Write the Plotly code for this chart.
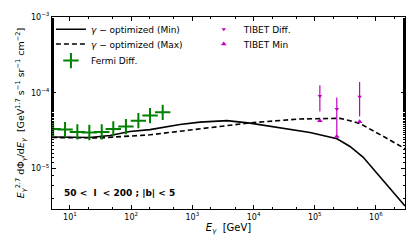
import plotly.graph_objects as go

# ---- data ----
E_min = [5.1, 10, 21, 45, 95, 203, 627, 1330, 3670, 8730, 2.7e4, 5.73e4, 8.36e4, 2.31e5, 3.76e5, 6.14e5, 1.16e6, 2.98e6]
F_min = [2.61e-5, 2.61e-5, 2.57e-5, 2.73e-5, 3.08e-5, 3.27e-5, 3.81e-5, 4.10e-5, 4.29e-5, 3.98e-5, 3.47e-5, 3.18e-5, 2.99e-5, 2.47e-5, 1.96e-5, 1.42e-5, 7.76e-6, 3.21e-6]

E_max = [5.1, 30.9, 203, 627, 8730, 5.73e4, 2.58e5, 3.76e5, 5.48e5, 1.4e6, 2.98e6]
F_max = [2.57e-5, 2.54e-5, 2.79e-5, 3.11e-5, 4.01e-5, 4.52e-5, 4.60e-5, 4.29e-5, 3.93e-5, 2.59e-5, 1.83e-5]

E_fermi = [5.3, 8.3, 13.2, 20.7, 33, 51, 82, 131, 203, 327]
F_fermi = [3.34e-5, 3.27e-5, 3.05e-5, 2.99e-5, 3.05e-5, 3.34e-5, 3.58e-5, 4.29e-5, 5.0e-5, 5.52e-5]

E_tibet = [1.21e5, 2.29e5, 5.4e5]
F_tibet = [9.1e-5, 6.1e-5, 8.9e-5]
F_tibet_hi = [1.26e-4, 8.7e-5, 1.39e-4]
F_tibet_lo = [5.65e-5, 2.8e-5, 4.85e-5]
F_tibet_min = [4.27e-5, 2.66e-5, 4.14e-5]

xtick_vals = [10, 100, 1000, 1e4, 1e5, 1e6]
xtick_text = ["10<sup>1</sup>", "10<sup>2</sup>", "10<sup>3</sup>", "10<sup>4</sup>", "10<sup>5</sup>", "10<sup>6</sup>"]
ytick_vals = [1e-5, 1e-4, 1e-3]
ytick_text = ["10<sup>−5</sup>", "10<sup>−4</sup>", "10<sup>−3</sup>"]

MAG = "#bf00bf"
FONT = "DejaVu Sans"

fig = go.Figure()
fig.add_trace(go.Scatter(x=E_min, y=F_min, mode="lines", line=dict(color="black", width=1.6),
                         name="<i>γ</i> − optimized (Min)", legend="legend", showlegend=True))
fig.add_trace(go.Scatter(x=E_max, y=F_max, mode="lines", line=dict(color="black", width=1.6, dash="5px,3px"),
                         name="<i>γ</i> − optimized (Max)", legend="legend2", showlegend=True))
fig.add_trace(go.Scatter(x=E_fermi, y=F_fermi, mode="markers",
                         marker=dict(symbol="cross-thin", size=11, line=dict(color="green", width=2), color="green"),
                         name="Fermi Diff.", legend="legend3", showlegend=True))
fig.add_trace(go.Scatter(x=E_tibet, y=F_tibet, mode="markers",
                         marker=dict(symbol="triangle-down", size=4, color=MAG),
                         error_y=dict(type="data", symmetric=False,
                                      array=[h - c for h, c in zip(F_tibet_hi, F_tibet)],
                                      arrayminus=[c - l for l, c in zip(F_tibet_lo, F_tibet)],
                                      color=MAG, thickness=1.2, width=0),
                         name="TIBET Diff.", legend="legend4", showlegend=True))
fig.add_trace(go.Scatter(x=E_tibet, y=F_tibet_min, mode="markers",
                         marker=dict(symbol="triangle-up", size=5, color=MAG),
                         name="TIBET Min", legend="legend5", showlegend=True))

fig.add_annotation(text="<b>50 <  l  < 200 ; |b| < 5</b>", xref="paper", yref="paper",
                   x=0.028, y=0.084, xanchor="left", yanchor="middle", showarrow=False,
                   font=dict(family=FONT, size=9, color="black"))

axis_common = dict(showgrid=False, zeroline=False, showline=True, linecolor="black", linewidth=1,
                   mirror="ticks", ticks="inside", ticklen=4, tickcolor="black", automargin=False,
                   minor=dict(ticks="inside", ticklen=2, tickcolor="black", showgrid=False),
                   tickfont=dict(family=FONT, size=8, color="black"))

fig.update_xaxes(type="log", range=[0.706, 6.474], tickvals=xtick_vals, ticktext=xtick_text,
                 title=dict(text="<i>E</i><sub><i>γ</i></sub>  [GeV]", font=dict(family=FONT, size=10, color="black"), standoff=1),
                 **axis_common)
fig.update_yaxes(type="log", range=[-5.533, -3], tickvals=ytick_vals, ticktext=ytick_text,
                 title=dict(text="<i>E</i><sub><i>γ</i></sub><sup>2.7</sup> dΦ<sub><i>γ</i></sub>/d<i>E</i><sub><i>γ</i></sub>  [GeV<sup>1.7</sup> s<sup>−1</sup> sr<sup>−1</sup> cm<sup>−2</sup>]",
                            font=dict(family=FONT, size=9.5, color="black"), standoff=4),
                 **axis_common)

def leg(x, y):
    return dict(x=x, y=y, xanchor="left", yanchor="middle", bgcolor="rgba(0,0,0,0)",
                font=dict(family=FONT, size=9, color="black"), itemwidth=30, borderwidth=0)

# page body adds an 8px offset; size the figure so the plot area lands where the reference has it
fig.update_layout(
    width=409, height=242,
    margin=dict(l=44, r=12, t=8, b=41),
    paper_bgcolor="white", plot_bgcolor="white",
    showlegend=True,
    font=dict(family=FONT, size=9, color="black"),
    legend=leg(-0.003, 0.931),
    legend2=leg(-0.003, 0.855),
    legend3=leg(-0.003, 0.769),
    legend4=leg(0.43, 0.931),
    legend5=leg(0.43, 0.855),
)

fig.write_html("out.html")
